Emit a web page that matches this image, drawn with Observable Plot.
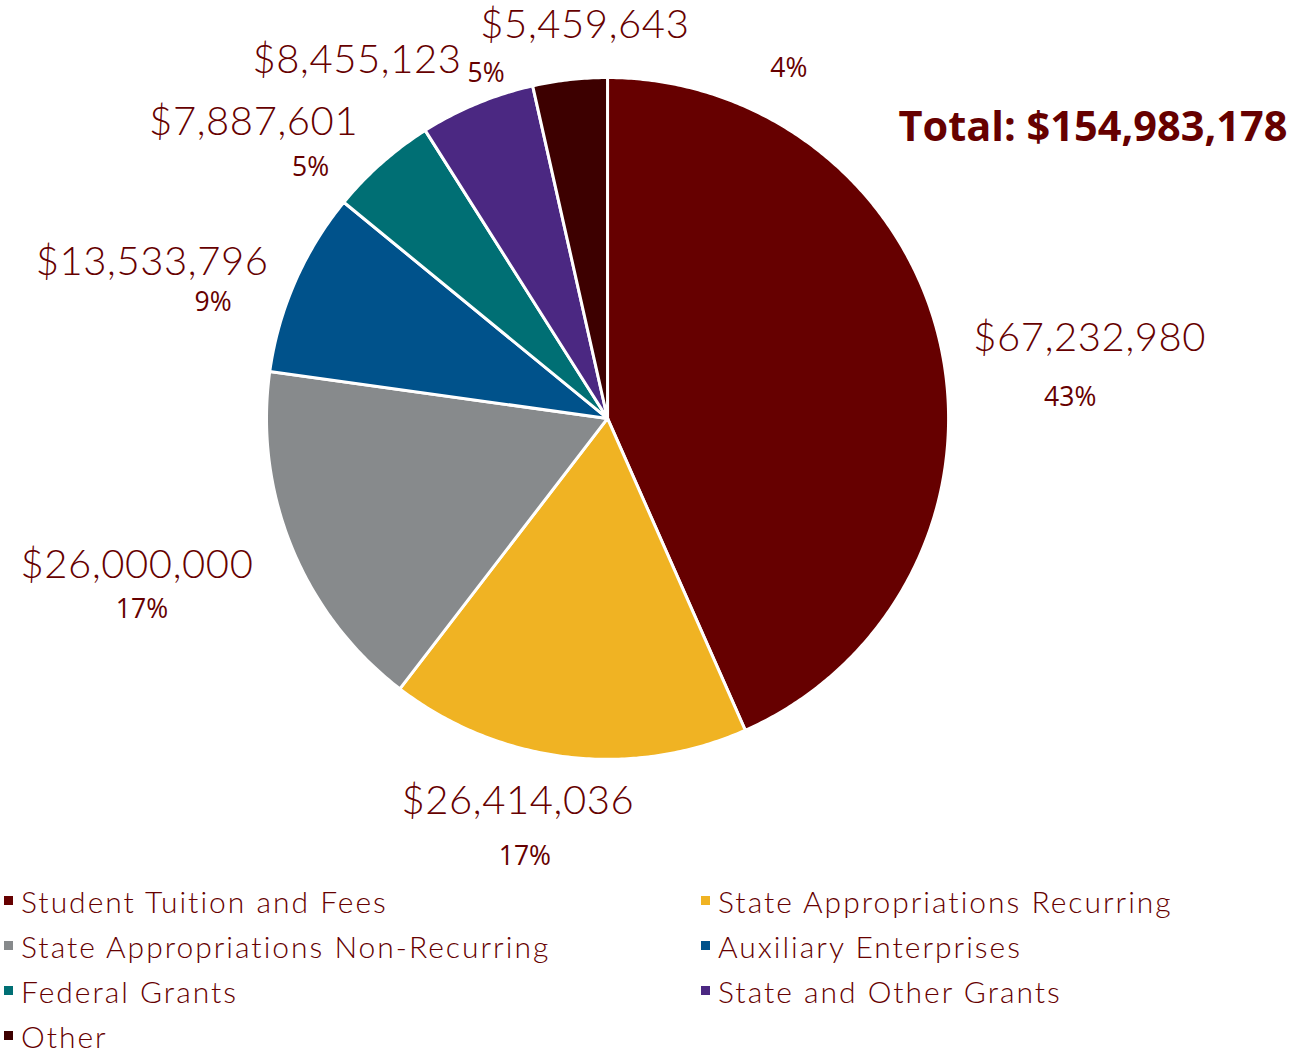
<!DOCTYPE html>
<html>
<head>
<meta charset="utf-8">
<script src="https://cdn.jsdelivr.net/npm/d3@7"></script>
<script src="https://cdn.jsdelivr.net/npm/@observablehq/plot@0.6"></script>
<style>
  html, body { margin: 0; padding: 0; background: #fff; }
  #chart { width: 1299px; height: 870px; }
  #chart g.vlabel text { letter-spacing: 0.6px; }
  #legend {
    display: grid; grid-template-columns: 697px 602px; grid-auto-rows: 45px;
    padding-top: 8px; font-family: Lato, sans-serif; font-weight: 300;
    font-size: 30px; letter-spacing: 2px; color: #660000; line-height: 1;
  }
  .item { display: flex; align-items: center; white-space: nowrap; }
  .sw { width: 9px; height: 9px; margin: 0 8px 0 4px; flex: none; }
</style>
</head>
<body>
<div id="chart"></div>
<div id="legend"></div>
<script>
// ---- data ----
const categories = [
  "Student Tuition and Fees",
  "State Appropriations Recurring",
  "State Appropriations Non-Recurring",
  "Auxiliary Enterprises",
  "Federal Grants",
  "State and Other Grants",
  "Other"
];
const values = [67232980, 26414036, 26000000, 13533796, 7887601, 8455123, 5459643];
const percentLabels = ["43%", "17%", "17%", "9%", "5%", "5%", "4%"];
const totalLabel = "Total: $154,983,178";

// ---- styles / layout ----
const colors = ["#660000", "#F0B323", "#878A8C", "#00528B", "#006F74", "#4B2882", "#3D0000"];
const textColor = "#660000";
// label offsets (px) relative to the slice's outer edge at its mid-angle
const valueNudge = [[32, -10, "start"], [-49, 44, "middle"], [-155, 18, "middle"], [-143, -20, "middle"], [-128, -41, "middle"], [-120, -43, "middle"], [15, -54, "middle"]];
const pctNudge = [[129, 49], [-42, 100], [-150, 62], [-82, 21], [-71, 4], [9, -30], [219, -11]];

const fmt = d3.format("$,");
const arcs = d3.pie().sort(null).value(d => d)(values);

// polygon points for each slice (unit radius, clockwise from 12 o'clock)
const slicePts = [];
arcs.forEach((a, i) => {
  slicePts.push({i, x: 0, y: 0});
  const n = Math.max(2, Math.ceil((a.endAngle - a.startAngle) / (Math.PI / 360)));
  for (let k = 0; k <= n; k++) {
    const t = a.startAngle + (a.endAngle - a.startAngle) * k / n;
    slicePts.push({i, x: Math.sin(t), y: Math.cos(t)});
  }
  slicePts.push({i, x: 0, y: 0});
});

const labels = arcs.map((a, i) => {
  const m = (a.startAngle + a.endAngle) / 2;
  return {i, x: Math.sin(m), y: Math.cos(m), value: fmt(values[i]), pct: percentLabels[i]};
});

const marks = [
  Plot.line(slicePts, {
    x: "x", y: "y", z: "i",
    fill: d => colors[d.i],
    stroke: "white", strokeWidth: 3, strokeLinejoin: "round", curve: "linear"
  })
];
labels.forEach((d, i) => {
  marks.push(Plot.text([d], {
    x: "x", y: "y", text: "value", className: "vlabel",
    dx: valueNudge[i][0], dy: valueNudge[i][1], textAnchor: valueNudge[i][2],
    fontSize: 40, fontFamily: "Lato, sans-serif", fontWeight: 300, fill: textColor
  }));
  marks.push(Plot.text([d], {
    x: "x", y: "y", text: "pct",
    dx: pctNudge[i][0], dy: pctNudge[i][1],
    fontSize: 26.5, fontFamily: "'Open Sans', sans-serif", fill: textColor
  }));
});
marks.push(Plot.text([totalLabel], {
  frameAnchor: "top-right", text: d => d, textAnchor: "end", lineAnchor: "middle",
  dx: -12, dy: 127, fontSize: 41.5, fontWeight: "bold",
  fontFamily: "'Open Sans', sans-serif", fill: textColor
}));

const chart = Plot.plot({
  width: 1299, height: 870,
  marginTop: 0, marginRight: 0, marginBottom: 0, marginLeft: 0,
  x: {domain: [-1.780, 2.029], axis: null},
  y: {domain: [-1.326, 1.226], axis: null},
  style: {background: "white", overflow: "visible"},
  marks
});
document.getElementById("chart").appendChild(chart);

const legend = document.getElementById("legend");
categories.forEach((c, i) => {
  const el = document.createElement("div");
  el.className = "item";
  el.innerHTML = `<span class="sw" style="background:${colors[i]}"></span><span>${c}</span>`;
  legend.appendChild(el);
});
</script>
</body>
</html>
